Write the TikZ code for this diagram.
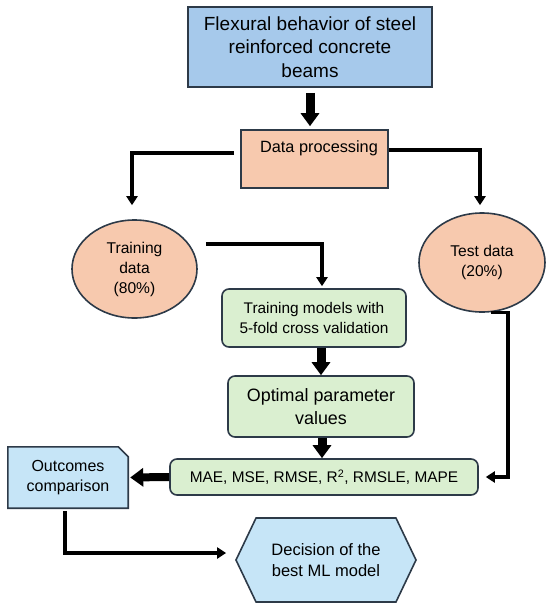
\documentclass[tikz,border=0pt]{standalone}
\usepackage{fontspec}
\setmainfont{Liberation Sans}
\usetikzlibrary{arrows.meta,shapes.geometric,shapes.symbols,backgrounds}

\definecolor{topblue}{RGB}{166,201,235}
\definecolor{lightblue}{RGB}{198,229,247}
\definecolor{salmon}{RGB}{247,201,174}
\definecolor{mint}{RGB}{218,239,208}
\definecolor{edgegray}{RGB}{45,58,72}

\begin{document}
\begin{tikzpicture}[x=1pt, y=-1pt,
    base/.style = {draw=edgegray, line width=1.6pt, align=center, inner sep=2pt},
    topbox/.style = {base, rectangle, fill=topblue, minimum width=244, minimum height=80, font=\fontsize{19}{23.5}\selectfont},
    procbox/.style = {base, rectangle, fill=salmon, minimum width=147, minimum height=58, font=\fontsize{16.3}{20}\selectfont},
    oval/.style = {base, ellipse, fill=salmon, font=\fontsize{15.6}{20}\selectfont},
    greenbox/.style = {base, rectangle, rounded corners=7pt, fill=mint},
    snipbox/.style = {align=center, minimum width=120, minimum height=61, font=\fontsize{16}{20}\selectfont},
    hexbox/.style = {base, shape=signal, signal to=west and east, signal pointer angle=129, fill=lightblue, minimum width=180, minimum height=84, font=\fontsize{16.5}{21}\selectfont},
    thinarrow/.style = {draw=black, line width=3.2pt, -{Triangle[width=11pt, length=9pt]}},
    fatarrow/.style = {draw=black, line width=9pt, -{Triangle[width=18pt, length=13pt]}}]

    % boxes
    \node[topbox] (beams) at (310, 47) {Flexural behavior of steel\\reinforced concrete\\beams};
    \node[procbox] (proc) at (314.5, 159) {\hspace*{9pt}Data processing\\[4pt]};
    \node[oval, minimum width=125, minimum height=98] (train) at (134.5, 269) {Training\\data\\(80\%)};
    \node[oval, minimum width=126, minimum height=99] (test) at (482, 262.5) {Test data\\(20\%)};
    \node[greenbox, minimum width=184, minimum height=58, font=\fontsize{15.4}{20}\selectfont] (cv) at (314, 318) {Training models with\\5-fold cross validation};
    \node[greenbox, minimum width=186, minimum height=61, font=\fontsize{17.9}{23}\selectfont] (optim) at (321, 406.5) {Optimal parameter\\values};
    \node[greenbox, minimum width=308, minimum height=36, font=\fontsize{15.4}{19}\selectfont] (metrics) at (324, 477) {MAE, MSE, RMSE, R\textsuperscript{2}, RMSLE, MAPE};
    \node[snipbox] (compare) at (68, 477.5) {Outcomes\\comparison};
    \node[hexbox] (best) at (326, 560) {Decision of the\\best ML model};

    % snipped corner of the comparison box
    \begin{scope}[on background layer]
        \draw[draw=edgegray, line width=1.6pt, fill=lightblue] (compare.south west) |- ([xshift=-10pt]compare.north east)
            -- ([yshift=-10pt]compare.north east) -- (compare.south east) -- cycle;
    \end{scope}

    % connectors
    \draw[fatarrow, shorten <=5pt, shorten >=3pt] (beams.south) -- (beams.south |- proc.north);
    \draw[thinarrow] ([shift={(-6,-6)}]proc.west) -| ([xshift=-2.5pt, yshift=14pt]train.north);
    \draw[thinarrow] ([yshift=9pt]proc.east) -| ([xshift=-2pt, yshift=7pt]test.north);
    \draw[thinarrow] ([shift={(8,-25)}]train.east) -| ([xshift=8pt, yshift=2pt]cv.north);
    \draw[fatarrow] (optim.north |- cv.south) -- (optim.north);
    \draw[fatarrow] ([xshift=1pt]optim.south) -- ([xshift=1pt]optim.south |- metrics.north);
    \draw[thinarrow] ([xshift=9pt]test.south) -- ++(17,0) |- ([xshift=7pt]metrics.east);
    \draw[fatarrow, line width=8pt, shorten >=2pt] (metrics.west) -- (compare.east);
    \draw[thinarrow] ([shift={(-3,3)}]compare.south) |- ([shift={(-9,-7)}]best.west);

    \useasboundingbox (0,0) rectangle (550,611);
\end{tikzpicture}
\end{document}
